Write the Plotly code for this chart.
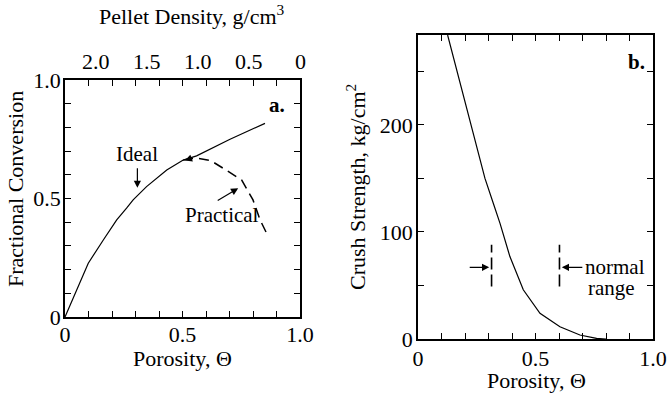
import plotly.graph_objects as go

# ---- data (panel a) ----
theta_ideal = [0, 0.05, 0.099, 0.163, 0.22, 0.262, 0.29, 0.347, 0.433, 0.503, 0.56, 0.70, 0.851]
conv_ideal = [0, 0.115, 0.227, 0.325, 0.41, 0.459, 0.494, 0.55, 0.62, 0.662, 0.68, 0.749, 0.817]
theta_prac = [0.503, 0.53, 0.56, 0.62, 0.674, 0.752, 0.80, 0.83, 0.865]
conv_prac = [0.662, 0.668, 0.67, 0.66, 0.627, 0.578, 0.494, 0.41, 0.339]
density_labels = [2.0, 1.5, 1.0, 0.5, 0]
solid_density = 2.3

# ---- data (panel b) ----
theta_crush = [0.126, 0.2, 0.25, 0.285, 0.32, 0.349, 0.391, 0.448, 0.519, 0.604, 0.689, 0.76, 0.8]
crush = [284, 222, 180, 150, 127, 108, 77, 46, 24, 11.5, 3.7, 0.5, 0]
normal_range = [0.313, 0.602]
range_marker_y = [49, 88]

FONT = "Liberation Serif"
BLACK = "black"

fig = go.Figure()
fig.add_trace(go.Scatter(x=theta_ideal, y=conv_ideal, mode="lines",
                         line=dict(color=BLACK, width=1.2), xaxis="x", yaxis="y"))
fig.add_trace(go.Scatter(x=theta_prac, y=conv_prac, mode="lines",
                         line=dict(color=BLACK, width=1.5, dash="10px,6px"), xaxis="x", yaxis="y"))
fig.add_trace(go.Scatter(x=theta_crush, y=crush, mode="lines",
                         line=dict(color=BLACK, width=1.2), xaxis="x2", yaxis="y2"))
for t in normal_range:
    fig.add_trace(go.Scatter(x=[t, t], y=range_marker_y, mode="lines",
                             line=dict(color=BLACK, width=1.6, dash="12px,5px"),
                             xaxis="x2", yaxis="y2"))

tick01 = [i / 10 for i in range(11)]
lab01 = ["0" if v == 0 else ("0.5" if abs(v - 0.5) < 1e-9 else ("1.0" if v == 1 else "")) for v in tick01]
crush_ticks = [0, 50, 100, 150, 200, 250]
crush_text = ["0", "", "100", "", "200", ""]

TICKFONT = dict(family=FONT, size=22, color=BLACK)
axis_common = dict(showgrid=False, zeroline=False, showline=True, linecolor=BLACK, linewidth=1.5,
                   mirror="ticks", ticks="inside", ticklen=6, tickwidth=1, tickcolor=BLACK,
                   tickfont=TICKFONT, tickmode="array", automargin=False)

dens_pos = [1 - d / solid_density for d in density_labels]
dens_text = ["0" if d == 0 else f"{d:.1f}" for d in density_labels]

fig.update_layout(
    width=672, height=395, margin=dict(l=0, r=0, t=0, b=0, autoexpand=False),
    paper_bgcolor="white", plot_bgcolor="white", showlegend=False,
    font=dict(family=FONT, color=BLACK),
    xaxis=dict(domain=[65 / 672, 300 / 672], range=[0, 1], tickvals=tick01, ticktext=lab01,
               anchor="y", ticklabelstandoff=-3, **axis_common),
    yaxis=dict(domain=[1 - 317 / 395, 1 - 80 / 395], range=[0, 1], tickvals=tick01, ticktext=lab01,
               anchor="x", ticklabelstandoff=-2, **axis_common),
    xaxis2=dict(domain=[418 / 672, 653 / 672], range=[0, 1], tickvals=tick01, ticktext=lab01,
                anchor="y2", ticklabelstandoff=-1, **axis_common),
    yaxis2=dict(domain=[1 - 339 / 395, 1 - 35 / 395], range=[0, 284], tickvals=crush_ticks,
                ticktext=crush_text, anchor="x2", ticklabelstandoff=-1, **axis_common),
)

ann = []
def text(x, y, s, xref="x", yref="y", size=21, **kw):
    ann.append(dict(x=x, y=y, xref=xref, yref=yref, text=s, showarrow=False,
                    xanchor="center", yanchor="middle",
                    font=dict(family=FONT, size=size, color=BLACK), **kw))

def arrow(x, y, ax, ay, xref="x", yref="y"):
    ann.append(dict(x=x, y=y, xref=xref, yref=yref, text="", showarrow=True, ax=ax, ay=ay,
                    arrowhead=2, arrowsize=1.2, arrowwidth=1.2, arrowcolor=BLACK))

# top density scale labels (positioned on the porosity axis)
for p, s in zip(dens_pos, dens_text):
    ann.append(dict(x=p, y=1, xref="x", yref="y domain", text=s, showarrow=False,
                    xanchor="center", yanchor="bottom", yshift=4, font=TICKFONT))

# axis titles
text(192 / 672, 1 - 15 / 395, "Pellet Density, g/cm<sup>3</sup>", "paper", "paper", 22)
text(182 / 672, 1 - 358 / 395, "Porosity, Θ", "paper", "paper", 22)
text(15 / 672, 1 - 189 / 395, "Fractional Conversion", "paper", "paper", 22, textangle=-90)
text(536 / 672, 1 - 380 / 395, "Porosity, Θ", "paper", "paper", 22)
text(356 / 672, 1 - 187 / 395, "Crush Strength, kg/cm<sup>2</sup>", "paper", "paper", 22, textangle=-90)

# panel a annotations
text(0.305, 0.688, "Ideal")
arrow(0.308, 0.545, 0, -21)
text(0.666, 0.43, "Practical")
arrow(0.737, 0.543, -22, 13)
arrow(0.51, 0.66, 8, -3)
text(0.9, 0.894, "<b>a.</b>")

# panel b annotations
text(0.928, 259, "<b>b.</b>", "x2", "y2")
arrow(0.303, 67, -21, 0, "x2", "y2")
arrow(0.612, 67, 22, 0, "x2", "y2")
text(0.84, 67, "normal", "x2", "y2")
text(0.825, 48, "range", "x2", "y2")

fig.update_layout(annotations=ann)
fig.write_html("out.html", config={"displayModeBar": False},
               post_script="document.body.style.margin='0';")
